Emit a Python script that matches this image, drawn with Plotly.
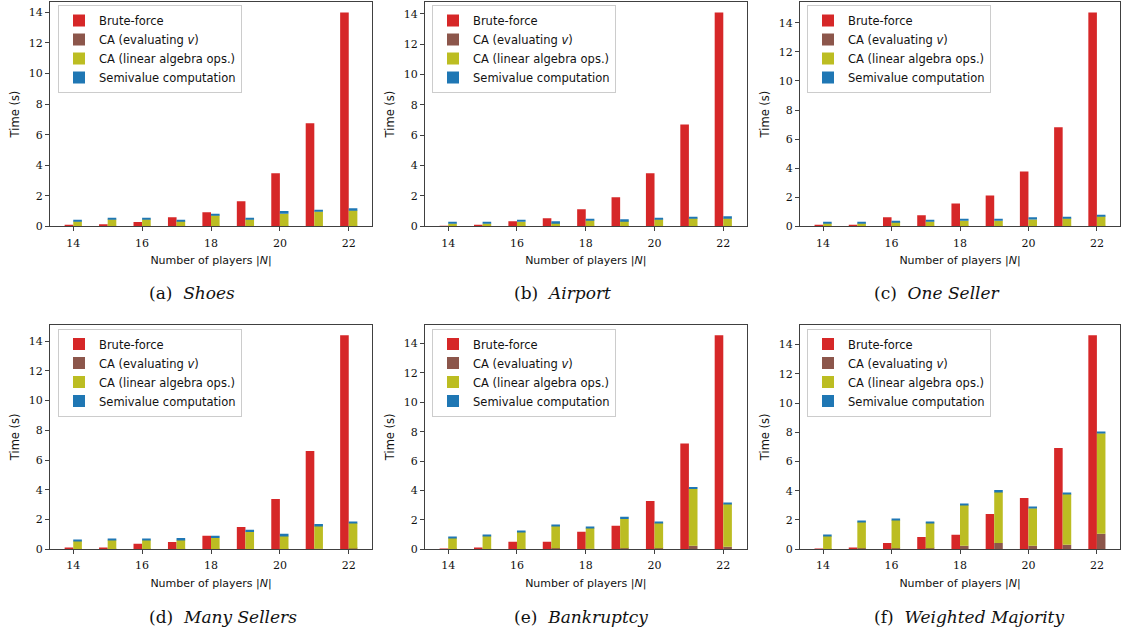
import plotly.graph_objects as go

players = [14, 15, 16, 17, 18, 19, 20, 21, 22]

# Time (s) per panel: brute-force, CA evaluating v, CA linear algebra, semivalue computation
shoes_bf = [0.05, 0.13, 0.28, 0.59, 0.92, 1.64, 3.47, 6.74, 14.0]
shoes_eval = [0.02, 0.01, 0.02, 0.01, 0.01, 0.01, 0.01, 0.01, 0.02]
shoes_lin = [0.31, 0.45, 0.44, 0.34, 0.71, 0.45, 0.82, 0.97, 1.03]
shoes_semi = [0.06, 0.09, 0.09, 0.06, 0.09, 0.09, 0.17, 0.07, 0.13]

airport_bf = [0.04, 0.07, 0.33, 0.53, 1.12, 1.91, 3.49, 6.71, 14.09]
airport_eval = [0.01, 0.01, 0.01, 0.01, 0.01, 0.01, 0.01, 0.01, 0.01]
airport_lin = [0.17, 0.17, 0.30, 0.23, 0.39, 0.36, 0.45, 0.52, 0.52]
airport_semi = [0.08, 0.08, 0.08, 0.09, 0.06, 0.09, 0.07, 0.06, 0.13]

oneseller_bf = [0.05, 0.05, 0.62, 0.76, 1.58, 2.13, 3.78, 6.81, 14.71]
oneseller_eval = [0.01, 0.01, 0.01, 0.01, 0.01, 0.01, 0.01, 0.01, 0.01]
oneseller_lin = [0.20, 0.20, 0.29, 0.33, 0.38, 0.38, 0.47, 0.54, 0.68]
oneseller_semi = [0.09, 0.09, 0.07, 0.10, 0.09, 0.09, 0.14, 0.07, 0.07]

manysellers_bf = [0.09, 0.09, 0.36, 0.49, 0.90, 1.50, 3.38, 6.61, 14.40]
manysellers_eval = [0.01, 0.01, 0.01, 0.01, 0.02, 0.02, 0.02, 0.03, 0.05]
manysellers_lin = [0.55, 0.62, 0.62, 0.62, 0.74, 1.14, 0.88, 1.54, 1.72]
manysellers_semi = [0.07, 0.06, 0.06, 0.13, 0.14, 0.14, 0.13, 0.13, 0.07]

bankruptcy_bf = [0.02, 0.09, 0.50, 0.50, 1.18, 1.59, 3.28, 7.20, 14.57]
bankruptcy_eval = [0.01, 0.01, 0.02, 0.07, 0.03, 0.07, 0.07, 0.23, 0.16]
bankruptcy_lin = [0.76, 0.90, 1.16, 1.52, 1.42, 1.99, 1.72, 3.87, 2.92]
bankruptcy_semi = [0.07, 0.06, 0.07, 0.06, 0.07, 0.14, 0.07, 0.14, 0.07]

weighted_bf = [0.02, 0.07, 0.43, 0.84, 0.98, 2.41, 3.51, 6.92, 14.64]
weighted_eval = [0.01, 0.07, 0.07, 0.07, 0.23, 0.43, 0.23, 0.30, 1.05]
weighted_lin = [0.90, 1.80, 1.93, 1.75, 2.80, 3.49, 2.57, 3.48, 6.89]
weighted_semi = [0.07, 0.06, 0.07, 0.05, 0.07, 0.13, 0.07, 0.07, 0.07]

panel_letters = ["a", "b", "c", "d", "e", "f"]
panel_names = ["Shoes", "Airport", "One Seller", "Many Sellers", "Bankruptcy", "Weighted Majority"]
panel_data = [
    (shoes_bf, shoes_eval, shoes_lin, shoes_semi),
    (airport_bf, airport_eval, airport_lin, airport_semi),
    (oneseller_bf, oneseller_eval, oneseller_lin, oneseller_semi),
    (manysellers_bf, manysellers_eval, manysellers_lin, manysellers_semi),
    (bankruptcy_bf, bankruptcy_eval, bankruptcy_lin, bankruptcy_semi),
    (weighted_bf, weighted_eval, weighted_lin, weighted_semi),
]
series_names = ["Brute-force", "CA (evaluating <i>v</i>)", "CA (linear algebra ops.)", "Semivalue computation"]
series_colors = ["#d62728", "#8c564b", "#bcbd22", "#1f77b4"]

W, H = 1123, 628          # target picture size (layout fractions are computed from it)
PAGE_H = 636              # page height that is photographed and fitted into 628 px
# pixel geometry of each panel's axes: (left, right, top, bottom)
col_px = [(50, 372), (425, 746.5), (800, 1120)]
row_px = [(1.7, 226), (324, 548.3)]
legend_px = [(58, 5), (432, 5), (807, 5), (58, 328), (432, 328), (807, 328)]
caption_px = [(147, 293), (512, 293), (872, 293), (147, 616), (512, 616), (872, 616)]

SERIF = "DejaVu Serif"
SANS = "DejaVu Sans"
AX = "#404040"
TXT = "#111111"

fig = go.Figure()
layout = dict(
    width=W, height=PAGE_H, margin=dict(l=0, r=0, t=0, b=0),
    plot_bgcolor="white", paper_bgcolor="white",
    barmode="overlay", showlegend=True, annotations=[],
)

for i, (bf, ev, lin, semi) in enumerate(panel_data):
    r, c = divmod(i, 3)
    sfx = "" if i == 0 else str(i + 1)
    xa, ya = "x" + sfx, "y" + sfx
    leg = "legend" + sfx
    base_lin = ev
    base_semi = [a + b for a, b in zip(ev, lin)]
    fig.add_trace(go.Bar(x=players, y=bf, width=0.25, offset=-0.25, name=series_names[0],
                         marker=dict(color=series_colors[0], line=dict(width=0)),
                         xaxis=xa, yaxis=ya, legend=leg))
    fig.add_trace(go.Bar(x=players, y=ev, width=0.25, offset=0, name=series_names[1],
                         marker=dict(color=series_colors[1], line=dict(width=0)),
                         xaxis=xa, yaxis=ya, legend=leg))
    fig.add_trace(go.Bar(x=players, y=lin, base=base_lin, width=0.25, offset=0, name=series_names[2],
                         marker=dict(color=series_colors[2], line=dict(width=0)),
                         xaxis=xa, yaxis=ya, legend=leg))
    fig.add_trace(go.Bar(x=players, y=semi, base=base_semi, width=0.25, offset=0, name=series_names[3],
                         marker=dict(color=series_colors[3], line=dict(width=0)),
                         xaxis=xa, yaxis=ya, legend=leg))

    tops = [max(b, s + t) for b, s, t in zip(bf, base_semi, semi)]
    ymax = max(tops) * 1.05
    x0, x1 = col_px[c]
    t0, b0 = row_px[r]
    layout["xaxis" + sfx] = dict(
        domain=[x0 / W, x1 / W], anchor=ya, range=[13.325, 22.675],
        tickmode="array", tickvals=[14, 16, 18, 20, 22],
        showline=True, mirror=True, linecolor=AX, linewidth=1.2,
        ticks="outside", ticklen=4, tickcolor=AX, tickwidth=1,
        showgrid=False, zeroline=False, ticklabelstandoff=2,
        tickfont=dict(family=SERIF, size=11, color=TXT),
        title=dict(text="Number of players |<i>N</i>|", standoff=7,
                   font=dict(family=SANS, size=11, color=TXT)),
    )
    layout["yaxis" + sfx] = dict(
        domain=[1 - b0 / H, 1 - t0 / H], anchor=xa, range=[0, ymax],
        tickmode="array", tickvals=[0, 2, 4, 6, 8, 10, 12, 14],
        showline=True, mirror=True, linecolor=AX, linewidth=1.2,
        ticks="outside", ticklen=4, tickcolor=AX, tickwidth=1,
        showgrid=False, zeroline=False,
        tickfont=dict(family=SERIF, size=11, color=TXT),
        title=dict(text="Time (s)", standoff=6,
                   font=dict(family=SANS, size=11.5, color=TXT)),
    )
    lx, ly = legend_px[i]
    layout[leg] = dict(
        x=lx / W, y=1 - ly / H, xanchor="left", yanchor="top",
        bgcolor="rgba(255,255,255,0.85)", bordercolor="#cccccc", borderwidth=1,
        font=dict(family=SANS, size=11.5, color=TXT),
        traceorder="normal", itemwidth=30,
    )
    cx, cy = caption_px[i]
    layout["annotations"].append(dict(
        x=cx / W, y=1 - cy / H, xref="paper", yref="paper", xanchor="left", yanchor="middle",
        showarrow=False, text="(" + panel_letters[i] + ")&nbsp;&nbsp;<i>" + panel_names[i] + "</i>",
        font=dict(family=SERIF, size=17, color=TXT),
    ))

fig.update_layout(**layout)
fig.write_html(
    "out.html",
    config={"displayModeBar": False},
    post_script="document.body.style.margin='0px';",
)
